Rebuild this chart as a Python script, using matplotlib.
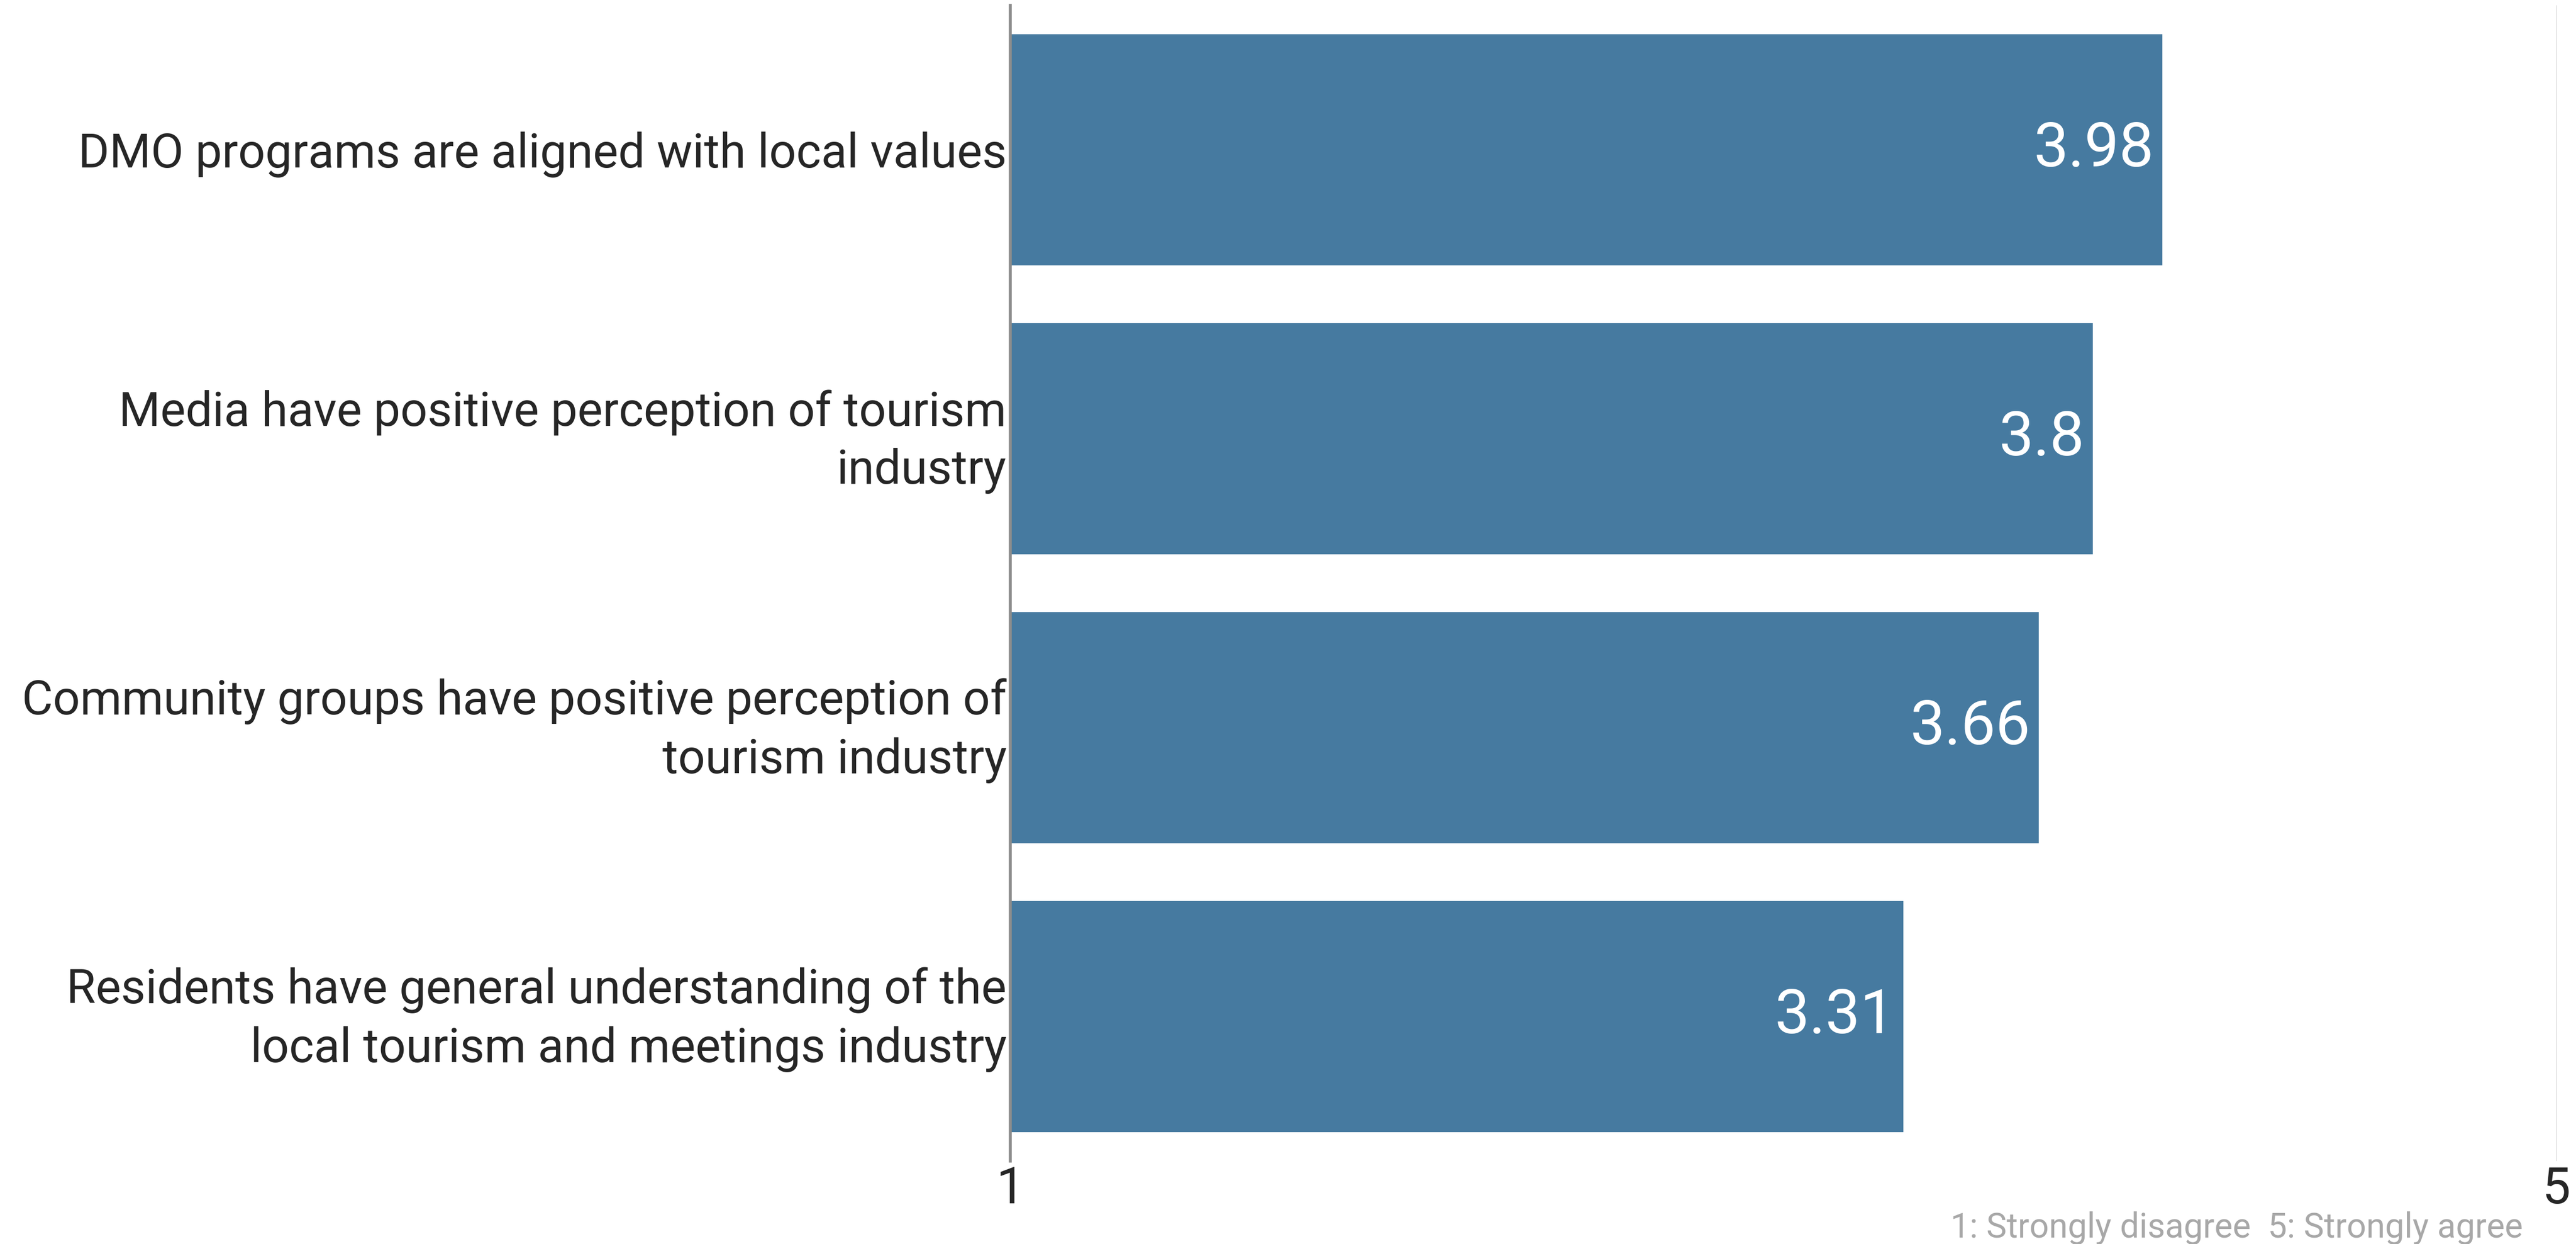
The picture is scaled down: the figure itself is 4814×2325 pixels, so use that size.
import numpy as np
import matplotlib
matplotlib.use('Agg')
import matplotlib.pyplot as plt
from matplotlib.transforms import ScaledTranslation

# survey statements (top to bottom) and mean agreement score
statements = ['DMO programs are aligned with local values',
              'Media have positive perception of tourism\nindustry',
              'Community groups have positive perception of\ntourism industry',
              'Residents have general understanding of the\nlocal tourism and meetings industry']
scores = [3.98, 3.8, 3.66, 3.31]
scale_ticks = [1, 5]
scale_note = '1: Strongly disagree  5: Strongly agree'

bar_color = '#467aa0'

plt.rcParams['font.family'] = ['Roboto', 'DejaVu Sans']

fig1 = plt.figure(figsize=(48.14, 23.25), dpi=100)
ax1 = fig1.add_axes([0.3922, 0.0667, 0.9925 - 0.3922, 0.9957 - 0.0667])

ypos = np.arange(len(statements))
ax1.barh(ypos, scores, height=0.8, color=bar_color, zorder=2)

# value inside the end of each bar
for i in range(len(scores)):
    ax1.annotate('%g' % scores[i], (scores[i], ypos[i]), xytext=(-11, 0),
                 textcoords='offset points', ha='right', va='center',
                 color='white', fontsize=83, zorder=3)

ax1.set_xlim(1, 5)
ax1.set_ylim(len(statements) - 0.5, -0.5)
ax1.set_xticks(scale_ticks)
ax1.set_xticklabels([str(t) for t in scale_ticks])
ax1.set_yticks(ypos)
ax1.set_yticklabels(statements, fontsize=64, color='#262626', linespacing=1.35)
ax1.tick_params(axis='x', length=0, pad=6, labelsize=68, labelcolor='#262626')
ax1.tick_params(axis='y', length=0, pad=5)

# two-line labels sit a little low, nudge them up
for lbl in ax1.get_yticklabels():
    if '\n' in lbl.get_text():
        lbl.set_transform(lbl.get_transform() +
                          ScaledTranslation(0, 11 / 72, fig1.dpi_scale_trans))

# light grid line at the top of the scale, darker axis line at 1
ax1.grid(True, axis='x', color='#cfcfcf', linewidth=2, zorder=0)
ax1.grid(False, axis='y')
for s in ['top', 'right', 'bottom']:
    ax1.spines[s].set_visible(False)
ax1.spines['left'].set_color('#8c8c8c')
ax1.spines['left'].set_linewidth(4)
ax1.spines['left'].set_zorder(4)

fig1.text(4715 / 4814, 12 / 2325, scale_note, ha='right', va='baseline',
          fontsize=46, color='#a8a8a8')

fig1.savefig('out.png', dpi=100)
